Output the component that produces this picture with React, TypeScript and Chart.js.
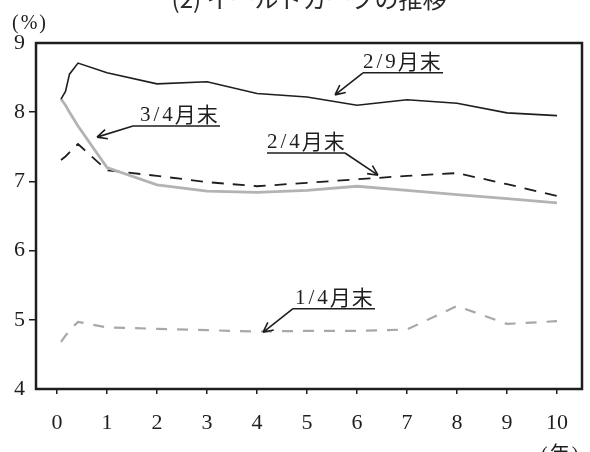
import React, { useEffect, useRef } from 'react';
import { Chart, registerables } from 'chart.js';

Chart.register(...registerables);

// maturity (years)
const maturities = [0.08, 0.17, 0.25, 0.42, 1, 2, 3, 4, 5, 6, 7, 8, 9, 10];
// yields (%)
const series29 = [8.19, 8.3, 8.55, 8.71, 8.57, 8.41, 8.44, 8.27, 8.22, 8.1, 8.18, 8.13, 7.99, 7.95];
const series34 = [8.19, 8.1, 8.0, 7.8, 7.2, 6.95, 6.86, 6.84, 6.87, 6.93, 6.87, 6.81, 6.75, 6.69];
const series24 = [7.31, 7.36, 7.42, 7.54, 7.16, 7.08, 6.99, 6.93, 6.98, 7.03, 7.08, 7.12, 6.96, 6.79];
const series14 = [4.68, 4.77, 4.85, 4.97, 4.89, 4.87, 4.85, 4.83, 4.84, 4.84, 4.86, 5.2, 4.94, 4.98];

const xTicks = [0, 1, 2, 3, 4, 5, 6, 7, 8, 9, 10];
const yTicks = [4, 5, 6, 7, 8, 9];

const titleText = '(2) イールドカーブの推移';
const yUnit = '(%)';
const xUnit = '(年)';

// annotation labels (anchored in data units)
const annoNums = ['2/9', '2/4', '3/4', '1/4'];
const annoSuffix = ['月末', '月末', '月末', '月末'];
const annoTextX = [6.12, 4.2, 1.66, 4.76];
const annoLineStartX = [6.12, 4.2, 1.52, 4.72];
const annoLineEndX = [7.72, 5.76, 3.26, 6.36];
const annoLineY = [8.57, 7.41, 7.8, 5.16];
const annoTipX = [5.56, 6.42, 0.8, 4.12];
const annoTipY = [8.25, 7.09, 7.64, 4.82];
const annoFromEnd = [false, true, false, false];

const INK = '#1e1e1e';

const decorPlugin = {
  id: 'decor',
  afterDraw(chart: any) {
    const { ctx, chartArea, scales } = chart;
    const xs = scales.x;
    const ys = scales.y;
    ctx.save();
    // frame
    ctx.strokeStyle = INK;
    ctx.lineWidth = 2.5;
    ctx.strokeRect(chartArea.left, chartArea.top, chartArea.right - chartArea.left, chartArea.bottom - chartArea.top);

    // title (clipped at top like the reference)
    ctx.fillStyle = '#2a2a2a';
    ctx.font = '24px "Noto Sans CJK JP"';
    ctx.textAlign = 'center';
    ctx.textBaseline = 'alphabetic';
    ctx.fillText(titleText, 309, 8);

    // units
    ctx.fillStyle = INK;
    ctx.textAlign = 'left';
    ctx.font = '20px "Liberation Serif", "Noto Sans CJK JP"';
    (ctx as any).letterSpacing = '2px';
    ctx.fillText(yUnit, 12, 28.5);
    ctx.fillText(xUnit, 541, 461);

    // annotations
    ctx.strokeStyle = INK;
    ctx.lineWidth = 1.6;
    for (let i = 0; i < annoNums.length; i++) {
      const sx = xs.getPixelForValue(annoLineStartX[i]);
      const ex = xs.getPixelForValue(annoLineEndX[i]);
      const ly = ys.getPixelForValue(annoLineY[i]);
      const tx = xs.getPixelForValue(annoTipX[i]);
      const ty = ys.getPixelForValue(annoTipY[i]);
      const ax = annoFromEnd[i] ? ex : sx;
      ctx.beginPath();
      ctx.moveTo(sx, ly);
      ctx.lineTo(ex, ly);
      ctx.moveTo(ax, ly);
      ctx.lineTo(tx, ty);
      const ang = Math.atan2(ty - ly, tx - ax);
      const L = 11;
      const spread = 0.45;
      ctx.moveTo(tx, ty);
      ctx.lineTo(tx - L * Math.cos(ang - spread), ty - L * Math.sin(ang - spread));
      ctx.moveTo(tx, ty);
      ctx.lineTo(tx - L * Math.cos(ang + spread), ty - L * Math.sin(ang + spread));
      ctx.stroke();
      const txp = xs.getPixelForValue(annoTextX[i]);
      ctx.font = '21px "Liberation Serif"';
      (ctx as any).letterSpacing = '3px';
      ctx.fillText(annoNums[i], txp, ly - 5);
      const w = ctx.measureText(annoNums[i]).width;
      ctx.font = '21px "Noto Sans CJK JP"';
      (ctx as any).letterSpacing = '1px';
      ctx.fillText(annoSuffix[i], txp + w - 1, ly - 4);
    }
    ctx.restore();
  },
};

export default function App() {
  const ref = useRef<HTMLCanvasElement>(null);
  useEffect(() => {
    document.body.style.margin = '0';
    const canvas = ref.current!;
    const mk = (ys: number[]) => maturities.map((x, i) => ({ x, y: ys[i] }));
    const chart = new Chart(canvas, {
      type: 'line',
      data: {
        datasets: [
          { label: '2/9月末', data: mk(series29), borderColor: INK, borderWidth: 1.6, pointRadius: 0, tension: 0 },
          { label: '3/4月末', data: mk(series34), borderColor: '#b3b3b3', borderWidth: 2.8, pointRadius: 0, tension: 0 },
          { label: '2/4月末', data: mk(series24), borderColor: INK, borderWidth: 1.8, borderDash: [12, 9], pointRadius: 0, tension: 0 },
          { label: '1/4月末', data: mk(series14), borderColor: '#a8a8a8', borderWidth: 2.2, borderDash: [11, 10], pointRadius: 0, tension: 0 },
        ],
      },
      options: {
        responsive: false,
        animation: false,
        events: [],
        layout: { padding: { top: 43, right: 8, left: 0, bottom: 0 } },
        plugins: { legend: { display: false }, tooltip: { enabled: false }, title: { display: false } },
        scales: {
          x: {
            type: 'linear',
            min: -0.42,
            max: 10.5,
            afterBuildTicks: (s: any) => { s.ticks = xTicks.map((v) => ({ value: v })); },
            afterFit: (s: any) => { s.height = 63; },
            grid: { drawOnChartArea: false, drawTicks: true, tickLength: 5, color: INK, lineWidth: 1.5 },
            border: { display: false },
            ticks: { color: INK, font: { family: 'Liberation Serif', size: 22 }, padding: 16, maxRotation: 0, autoSkip: false },
          },
          y: {
            type: 'linear',
            min: 4,
            max: 9,
            afterBuildTicks: (s: any) => { s.ticks = yTicks.map((v) => ({ value: v })); },
            afterFit: (s: any) => { s.width = 36; },
            grid: {
              drawOnChartArea: false,
              drawTicks: true,
              tickLength: 7,
              lineWidth: 1.5,
              color: (c: any) => (c.tick && (c.tick.value === 4 || c.tick.value === 9) ? 'rgba(0,0,0,0)' : INK),
            },
            border: { display: false },
            ticks: { color: INK, font: { family: 'Liberation Serif', size: 22 }, padding: 4 },
          },
        },
      },
      plugins: [decorPlugin],
    } as any);
    return () => chart.destroy();
  }, []);
  return <canvas ref={ref} width={590} height={452} style={{ display: 'block' }} />;
}
